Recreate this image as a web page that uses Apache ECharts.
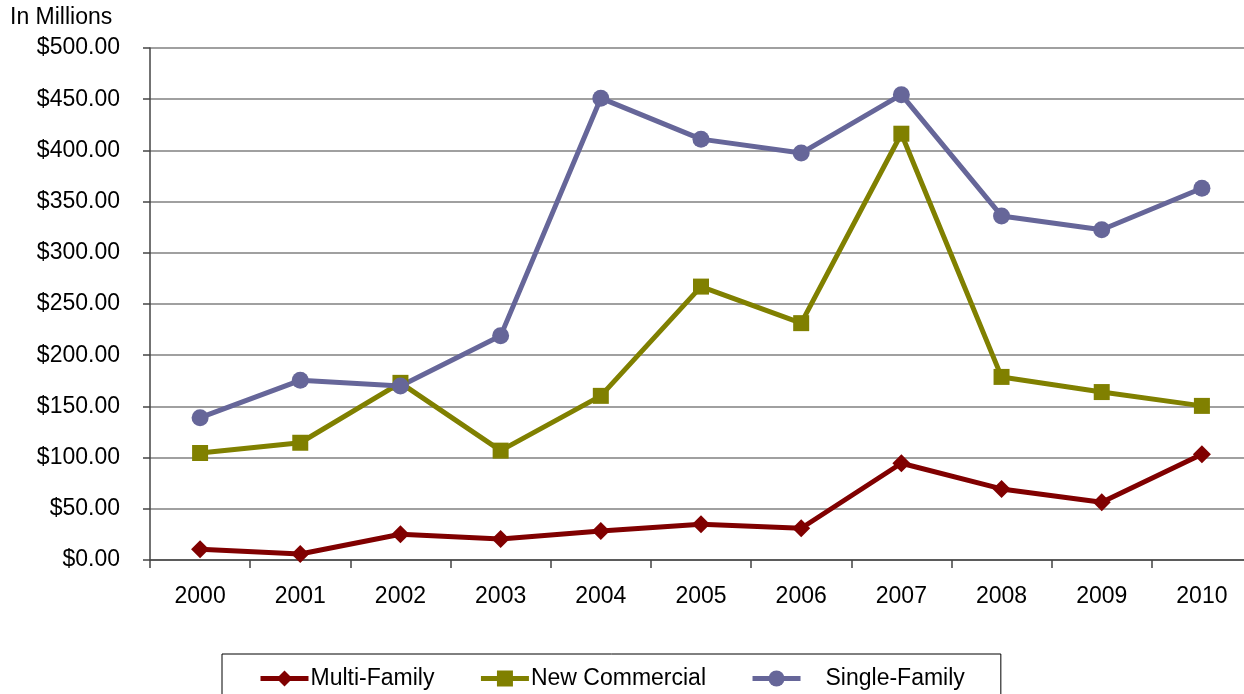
<!DOCTYPE html>
<html>
<head>
<meta charset="utf-8">
<script src="https://cdn.jsdelivr.net/npm/echarts@6/dist/echarts.min.js"></script>
<style>html,body{margin:0;padding:0;background:#fff;overflow:hidden;width:1244px;height:694px}#c{width:1252px;height:694px}</style>
</head>
<body>
<div id="c"></div>
<script>
const years = ['2000','2001','2002','2003','2004','2005','2006','2007','2008','2009','2010'];
const multiFamily = [10.4, 5.9, 25.1, 20.5, 28.3, 35, 31, 94.5, 69.4, 56.4, 103.3];
const newCommercial = [104.5, 114.5, 173, 106.8, 160.3, 267, 231.3, 416.3, 178.8, 164, 150.5];
const singleFamily = [139, 175.5, 170, 218.9, 451, 411, 397.4, 454.4, 336, 322.5, 363];
const yTicks = [0, 50, 100, 150, 200, 250, 300, 350, 400, 450, 500];

const font = 'Liberation Sans, Arial, sans-serif';
const chart = echarts.init(document.getElementById('c'), null, {renderer: 'canvas'});
chart.setOption({
  animation: false,
  backgroundColor: '#fff',
  textStyle: {fontFamily: font},
  title: {text: 'In Millions', left: 10, top: 6, padding: 0,
    textStyle: {fontFamily: font, fontSize: 23, fontWeight: 'normal', color: '#000'}},
  grid: {left: 150, right: 0, top: 48, bottom: 134, containLabel: false},
  xAxis: {
    type: 'category', data: years, boundaryGap: true,
    axisLine: {lineStyle: {color: '#444', width: 1.5}},
    axisTick: {show: true, length: 8, lineStyle: {color: '#444', width: 1.5}},
    axisLabel: {color: '#000', fontSize: 23, fontFamily: font, margin: 25}
  },
  yAxis: {
    type: 'value', min: yTicks[0], max: yTicks[yTicks.length - 1], interval: 50,
    axisLine: {show: true, lineStyle: {color: '#444', width: 1.5}},
    axisTick: {show: true, length: 7, lineStyle: {color: '#444', width: 1.5}},
    splitLine: {lineStyle: {color: '#808080', width: 1.5}},
    axisLabel: {color: '#000', fontSize: 23, fontFamily: font, margin: 30,
      formatter: v => '$' + v.toFixed(2)}
  },
  legend: {
    left: 222, top: 654, width: 780,
    padding: [13, 36, 30, 36], itemGap: 44,
    borderColor: '#000', borderWidth: 1,
    itemWidth: 48, itemHeight: 20,
    lineStyle: {width: 5},
    textStyle: {fontSize: 23, fontFamily: font, color: '#000', padding: [0, 0, 0, -3]},
    data: [
      {name: 'Multi-Family'},
      {name: 'New Commercial'},
      {name: 'Single-Family', textStyle: {padding: [0, 0, 0, 20]}}
    ]
  },
  series: [
    {name: 'Multi-Family', type: 'line', data: multiFamily, color: '#800000',
     symbol: 'diamond', symbolSize: 18, lineStyle: {width: 5}},
    {name: 'New Commercial', type: 'line', data: newCommercial, color: '#808000',
     symbol: 'rect', symbolSize: 16, lineStyle: {width: 5}},
    {name: 'Single-Family', type: 'line', data: singleFamily, color: '#666699',
     symbol: 'circle', symbolSize: 17, lineStyle: {width: 5}}
  ]
});
</script>
</body>
</html>
